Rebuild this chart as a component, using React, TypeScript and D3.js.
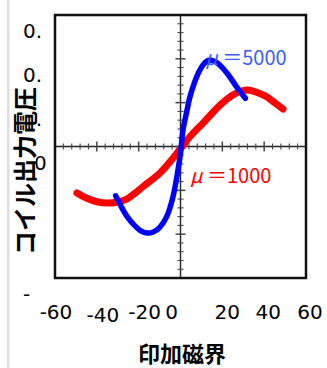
import React from "react";
import * as d3 from "d3";

// coil output voltage vs applied field, two permeabilities
const mu5000: [number, number][] = [
  [-31, -0.225], [-28, -0.28], [-25.5, -0.32], [-22, -0.36], [-19, -0.385],
  [-16, -0.395], [-13, -0.39], [-10, -0.37], [-6.6, -0.32], [-3.6, -0.23],
  [-1.2, -0.107], [0, -0.03], [1.2, 0.075], [3, 0.16], [4.5, 0.226],
  [7, 0.3], [9.3, 0.35], [12, 0.385], [14, 0.395], [17, 0.385],
  [20, 0.36], [23, 0.325], [27, 0.27], [31, 0.22],
];

const mu1000: [number, number][] = [
  [-49.5, -0.212], [-45, -0.235], [-40, -0.252], [-35, -0.258], [-30, -0.253],
  [-25.7, -0.24], [-22, -0.215], [-17.9, -0.183], [-9.8, -0.121], [-5, -0.07],
  [0, -0.01], [5, 0.05], [10.8, 0.107], [18.9, 0.189], [25, 0.235],
  [29, 0.252], [32.3, 0.258], [37, 0.245], [41.2, 0.227], [45, 0.2], [49, 0.171],
];

const xTicks = [-60, -40, -20, 0, 20, 40, 60];
const yTickValues = [0.6, 0.4, 0.2, 0, -0.2, -0.4, -0.6];
const yTickLabels = ["0.", "0.", "0.", "0", "-", "-", "-"];

const seriesLabels = [
  { name: "5000", at: [11.8, 0.37], color: "#3b5bff" },
  { name: "1000", at: [4.5, -0.166], color: "#ff0000" },
];

const W = 327, H = 368;

// the original's x labels drift a little off their ticks
const xLabelNudge = [1, 6, 6, -9, 5, 4, 4];

export default function App() {
  const x = d3.scaleLinear().domain([-60, 60]).range([55, 306]);
  const y = d3.scaleLinear().domain([-0.6, 0.6]).range([278, 15]);

  const line = d3
    .line<[number, number]>()
    .x((d) => x(d[0]))
    .y((d) => y(d[1]))
    .curve(d3.curveCatmullRom.alpha(0.5));

  const x0 = x(0), y0 = y(0);
  const xMinor = d3.range(-14, 15).map((i) => i * 4);
  const yMinor = d3.range(-14, 15).map((i) => i * 0.04);

  const numFont = "'DejaVu Sans', sans-serif";
  const jpFont = "'Noto Sans CJK JP', sans-serif";

  return (
    <svg
      width={W}
      height={H}
      style={{ position: "absolute", left: 0, top: 0, display: "block", background: "#fff" }}
    >
      <rect x={7} y={0} width={2.5} height={H} fill="#dedede" />

      {/* axes through origin with ticks */}
      <line x1={x(-60)} x2={x(60)} y1={y0} y2={y0} stroke="#222" strokeWidth={1.4} />
      <line x1={x0} x2={x0} y1={y(0.6)} y2={y(-0.6)} stroke="#222" strokeWidth={1.4} />
      {xMinor.map((v, i) => {
        const big = Math.round(v) % 20 === 0;
        const h = big ? 5 : 3;
        return (
          <line key={"xt" + i} x1={x(v)} x2={x(v)} y1={y0 - h} y2={y0 + h}
            stroke="#444" strokeWidth={big ? 1.5 : 1.1} />
        );
      })}
      {yMinor.map((v, i) => {
        const big = Math.abs(Math.round(v * 100)) % 20 === 0;
        const h = big ? 5 : 3;
        return (
          <line key={"yt" + i} x1={x0 - h} x2={x0 + h} y1={y(v)} y2={y(v)}
            stroke="#444" strokeWidth={big ? 1.5 : 1.1} />
        );
      })}

      <path d={line(mu1000) || ""} fill="none" stroke="#ff0000" strokeWidth={7}
        strokeLinecap="round" strokeLinejoin="round" />
      <path d={line(mu5000) || ""} fill="none" stroke="#0000ff" strokeWidth={5.5}
        strokeLinecap="round" strokeLinejoin="round" />

      {/* frame */}
      <rect x={55} y={15} width={251} height={263} fill="none" stroke="#111" strokeWidth={2.5} />

      {seriesLabels.map((s) => (
        <text key={s.name} x={x(s.at[0])} y={y(s.at[1])} fill={s.color}
          fontFamily={jpFont} fontSize={20}>
          <tspan fontStyle="italic">μ</tspan> ＝{s.name}
        </text>
      ))}

      {/* y tick labels (clipped in the original) */}
      {yTickValues.map((v, i) => (
        <text key={"yl" + i} x={v === 0 ? 34 : 23} y={y(v) + 23}
          fontFamily={numFont} fontSize={20} fill="#000">
          {yTickLabels[i]}
        </text>
      ))}

      {/* y title sits over the labels */}
      <rect x={12} y={85} width={24} height={173} fill="#fff" />
      <text transform={`translate(34, 171) rotate(-90)`} textAnchor="middle"
        fontFamily={jpFont} fontWeight="bold" fontSize={24} fill="#000">
        コイル出力電圧
      </text>

      {xTicks.map((v, i) => (
        <text key={"xl" + v} x={x(v) + xLabelNudge[i]} y={v === -40 ? 322 : 319}
          textAnchor="middle" fontFamily={numFont} fontSize={20} fill="#000">
          {v}
        </text>
      ))}

      <text x={182} y={362} textAnchor="middle" fontFamily={jpFont}
        fontWeight="bold" fontSize={22} fill="#000">
        印加磁界
      </text>
    </svg>
  );
}
